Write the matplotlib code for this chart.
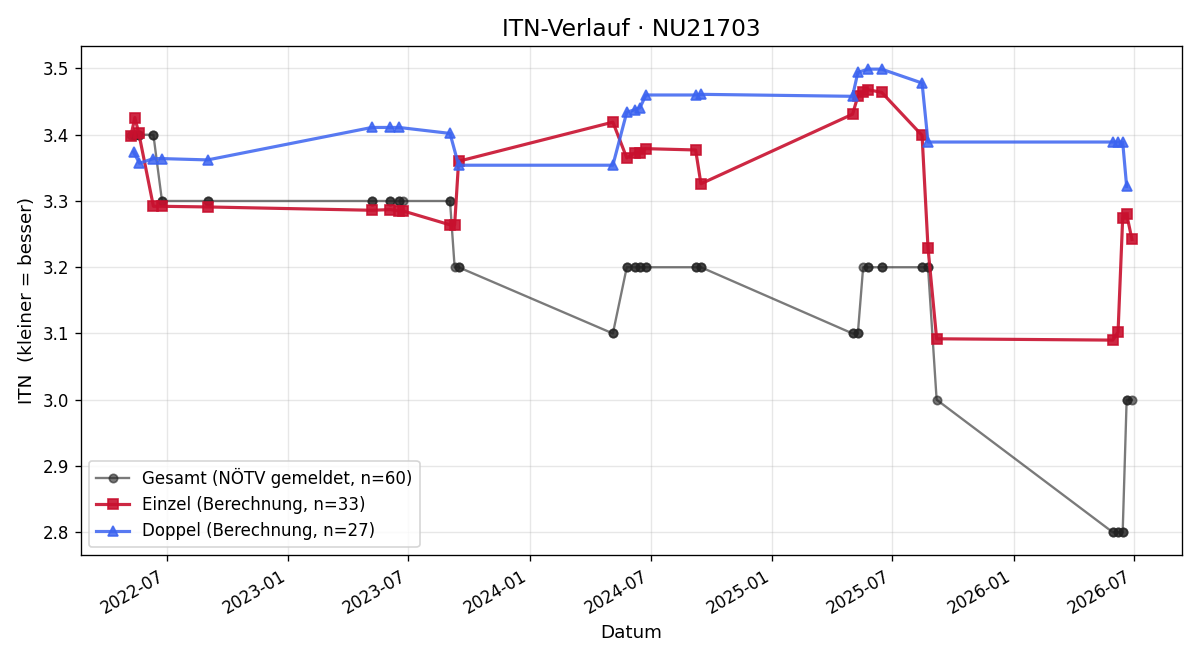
import numpy as np
import pandas as pd
import matplotlib
matplotlib.use("Agg")
import matplotlib.pyplot as plt
import matplotlib.dates as mdates

# Einzel (singles) matches
einzel_dates = ["2022-05-08", "2022-05-14", "2022-05-20", "2022-06-11", "2022-06-24", "2022-09-01",
                "2023-05-07", "2023-06-04", "2023-06-17", "2023-06-23", "2023-09-02", "2023-09-09", "2023-09-15",
                "2024-05-05", "2024-05-26", "2024-06-08", "2024-06-15", "2024-06-24", "2024-09-07", "2024-09-15",
                "2025-05-02", "2025-05-10", "2025-05-18", "2025-05-25", "2025-06-15", "2025-08-15", "2025-08-24",
                "2025-09-06",
                "2026-05-30", "2026-06-07", "2026-06-14", "2026-06-20", "2026-06-28"]
einzel_itn = [3.398, 3.426, 3.402, 3.292, 3.292, 3.291,
              3.286, 3.287, 3.285, 3.285, 3.264, 3.264, 3.360,
              3.419, 3.365, 3.373, 3.373, 3.379, 3.377, 3.326,
              3.431, 3.458, 3.465, 3.468, 3.464, 3.399, 3.229,
              3.092,
              3.090, 3.102, 3.274, 3.280, 3.242]

# Doppel (doubles) matches
doppel_dates = ["2022-05-12", "2022-05-21", "2022-06-11", "2022-06-24", "2022-09-01",
                "2023-05-07", "2023-06-04", "2023-06-17", "2023-09-02", "2023-09-15",
                "2024-05-05", "2024-05-26", "2024-06-08", "2024-06-15", "2024-06-24", "2024-09-07", "2024-09-15",
                "2025-05-02", "2025-05-10", "2025-05-25", "2025-06-15", "2025-08-15", "2025-08-24",
                "2026-05-30", "2026-06-07", "2026-06-14", "2026-06-20"]
doppel_itn = [3.374, 3.357, 3.364, 3.364, 3.362,
              3.411, 3.411, 3.411, 3.402, 3.354,
              3.354, 3.434, 3.438, 3.441, 3.460, 3.460, 3.461,
              3.458, 3.494, 3.499, 3.499, 3.478, 3.389,
              3.389, 3.389, 3.389, 3.322]

# Gesamt (reported by NÖTV), one entry per match
gesamt_dates = ["2022-05-08", "2022-05-12", "2022-05-14", "2022-05-20", "2022-05-21", "2022-06-11", "2022-06-11",
                "2022-06-24", "2022-06-24", "2022-09-01", "2022-09-01",
                "2023-05-07", "2023-05-07", "2023-06-04", "2023-06-04", "2023-06-17", "2023-06-17", "2023-06-23",
                "2023-09-02", "2023-09-02", "2023-09-09", "2023-09-15", "2023-09-15",
                "2024-05-05", "2024-05-05", "2024-05-26", "2024-05-26", "2024-06-08", "2024-06-08",
                "2024-06-15", "2024-06-15", "2024-06-24", "2024-06-24", "2024-09-07", "2024-09-07",
                "2024-09-15", "2024-09-15",
                "2025-05-02", "2025-05-02", "2025-05-10", "2025-05-10", "2025-05-18", "2025-05-25", "2025-05-25",
                "2025-06-15", "2025-06-15", "2025-08-15", "2025-08-15", "2025-08-24", "2025-08-24", "2025-09-06",
                "2026-05-30", "2026-05-30", "2026-06-07", "2026-06-07", "2026-06-14", "2026-06-14",
                "2026-06-20", "2026-06-20", "2026-06-28"]
gesamt_itn = [3.4, 3.4, 3.4, 3.4, 3.4, 3.4, 3.4,
              3.3, 3.3, 3.3, 3.3,
              3.3, 3.3, 3.3, 3.3, 3.3, 3.3, 3.3,
              3.3, 3.3, 3.2, 3.2, 3.2,
              3.1, 3.1, 3.2, 3.2, 3.2, 3.2,
              3.2, 3.2, 3.2, 3.2, 3.2, 3.2,
              3.2, 3.2,
              3.1, 3.1, 3.1, 3.1, 3.2, 3.2, 3.2,
              3.2, 3.2, 3.2, 3.2, 3.2, 3.2, 3.0,
              2.8, 2.8, 2.8, 2.8, 2.8, 2.8,
              3.0, 3.0, 3.0]

fig, ax = plt.subplots(figsize=(10, 5.5), dpi=120)

ax.plot(pd.to_datetime(gesamt_dates), gesamt_itn, marker="o", markersize=5, linewidth=1.4,
        color="#222222", alpha=0.6, label="Gesamt (NÖTV gemeldet, n=%d)" % len(gesamt_itn))
ax.plot(pd.to_datetime(einzel_dates), einzel_itn, marker="s", markersize=6, linewidth=1.9,
        color="#c8102e", alpha=0.9, label="Einzel (Berechnung, n=%d)" % len(einzel_itn))
ax.plot(pd.to_datetime(doppel_dates), doppel_itn, marker="^", markersize=6, linewidth=1.9,
        color="#3b63f0", alpha=0.85, label="Doppel (Berechnung, n=%d)" % len(doppel_itn))

ax.set_title("ITN-Verlauf · NU21703", fontsize=14)
ax.set_xlabel("Datum", fontsize=11)
ax.set_ylabel("ITN  (kleiner = besser)", fontsize=11)
ax.grid(True, alpha=0.3)
ax.xaxis.set_major_locator(mdates.MonthLocator(bymonth=[1, 7]))
ax.xaxis.set_major_formatter(mdates.DateFormatter("%Y-%m"))
ax.legend(loc="lower left", fontsize=10)
fig.autofmt_xdate()

fig.tight_layout()
plt.savefig("out.png")
